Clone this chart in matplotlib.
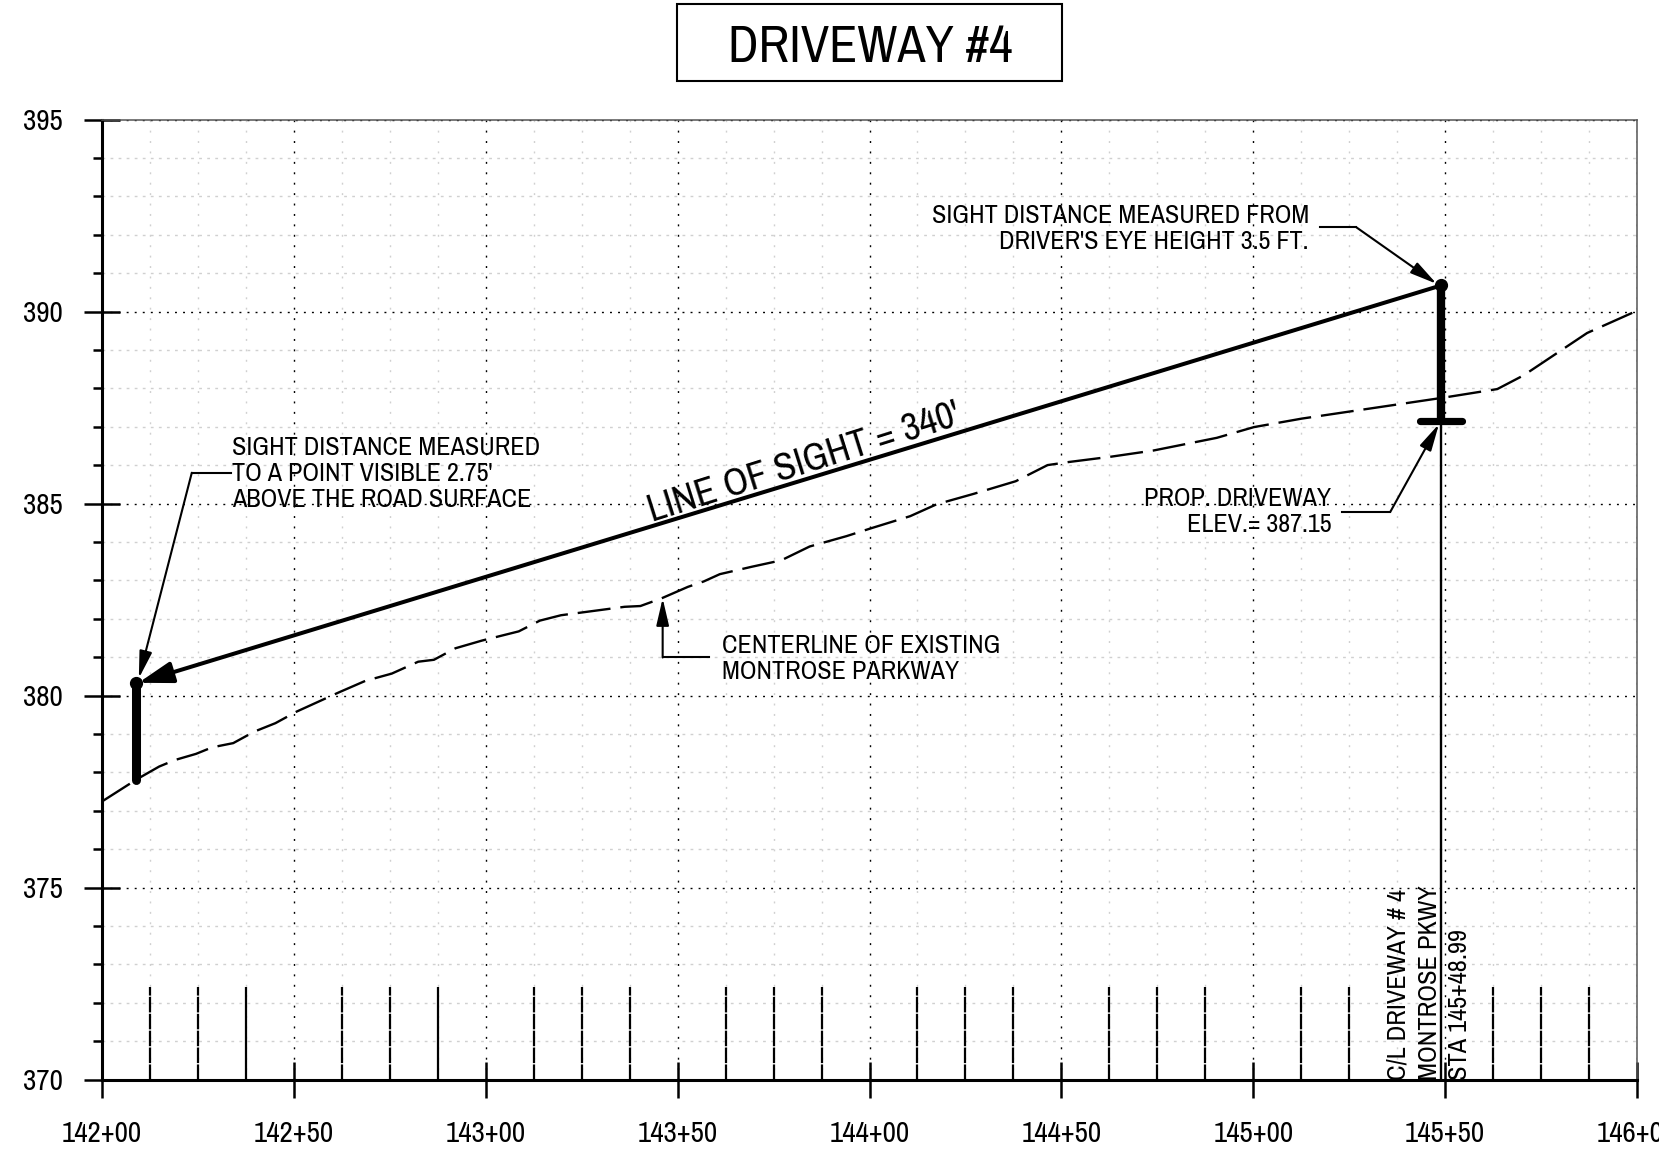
import matplotlib
matplotlib.use('Agg')
import matplotlib.pyplot as plt
from matplotlib.patches import Rectangle
from matplotlib.ticker import MultipleLocator, FuncFormatter

plt.rcParams['font.family'] = ['Archivo Narrow', 'Liberation Sans', 'DejaVu Sans']

W, H = 1659, 1175

# existing road centerline
ground_sta = [14200.0, 14209.1, 14214.9, 14219.0, 14224.5, 14228.7, 14234.2, 14239.7, 14245.2, 14250.7,
              14261.7, 14268.6, 14275.5, 14282.4, 14286.5, 14292.1, 14299.0, 14308.6, 14314.1, 14319.6,
              14327.9, 14336.2, 14340.3, 14345.8, 14352.7, 14356.8, 14361.0, 14369.2, 14377.0, 14384.4,
              14394.0, 14400.9, 14410.6, 14417.5, 14427.1, 14438.1, 14446.4, 14451.9, 14463.0, 14474.0,
              14490.5, 14500.2, 14512.6, 14549.8, 14563.6, 14570.5, 14587.0, 14600.0]
ground_elev = [377.24, 377.82, 378.15, 378.32, 378.48, 378.65, 378.76, 379.06, 379.28, 379.58,
               380.08, 380.38, 380.57, 380.88, 380.93, 381.23, 381.43, 381.67, 381.95, 382.09,
               382.20, 382.31, 382.33, 382.53, 382.83, 382.97, 383.16, 383.35, 383.52, 383.88,
               384.15, 384.37, 384.67, 384.98, 385.25, 385.58, 386.00, 386.08, 386.22, 386.38,
               386.71, 386.99, 387.21, 387.76, 387.98, 388.34, 389.44, 390.02]

# line of sight
driver_sta = 14548.99
driver_elev = 390.68
driveway_elev = 387.15
target_sta = 14208.99
target_top = 380.33
target_bottom = 377.8

# short marks above the station axis
mark_sta = [14212.5, 14225, 14262.5, 14275, 14312.5, 14325, 14337.5,
            14362.5, 14375, 14387.5, 14412.5, 14425, 14437.5, 14462.5, 14475, 14487.5,
            14512.5, 14525, 14562.5, 14575, 14587.5]
solid_mark_sta = [14237.5, 14287.5]

fig = plt.figure(figsize=(W / 100, H / 100), dpi=100, facecolor='white')
ax = fig.add_axes([102 / W, 1 - 1079.5 / H, (1637 - 102) / W, (1079.5 - 119.5) / H])
ax.set_xlim(14200, 14600)
ax.set_ylim(370, 395)

ax.spines['left'].set_linewidth(2.2)
ax.spines['bottom'].set_linewidth(2.2)
for side in ['top', 'right']:
    ax.spines[side].set_linewidth(1.1)
    ax.spines[side].set_color('#555555')

ax.xaxis.set_major_locator(MultipleLocator(50))
ax.xaxis.set_minor_locator(MultipleLocator(12.5))
ax.yaxis.set_major_locator(MultipleLocator(5))
ax.yaxis.set_minor_locator(MultipleLocator(1))
ax.xaxis.set_major_formatter(FuncFormatter(lambda v, p: '%d+%02d' % (v // 100, v % 100)))

ax.set_axisbelow(True)
# dot spacing differs a little between the two directions in the drawing
ax.xaxis.grid(True, which='major', color='black', lw=1, linestyle=(0, (1.4, 6.1)))
ax.yaxis.grid(True, which='major', color='black', lw=1, linestyle=(0, (1.4, 4.4)))
ax.xaxis.grid(True, which='minor', color='#d0d0d0', lw=1, linestyle=(0, (1.4, 6.1)))
ax.yaxis.grid(True, which='minor', color='#d0d0d0', lw=1, linestyle=(0, (2.0, 3.8)))

ax.tick_params(axis='both', which='major', direction='inout', length=26, width=1.8, labelsize=21)
ax.tick_params(axis='y', which='major', pad=15)
ax.tick_params(axis='x', which='major', pad=16)
ax.tick_params(axis='y', which='minor', direction='out', length=6.5, width=1.8)
ax.tick_params(axis='x', which='minor', length=0)

ax.vlines(mark_sta, 370, 372.4, color='black', lw=1.6, linestyle=(0, (7, 0.6)))
ax.vlines(solid_mark_sta, 370, 372.4, color='black', lw=1.6)

# profile line
ax.plot(ground_sta, ground_elev, color='black', lw=1.7, linestyle=(0, (14, 4.2)), dash_capstyle='butt')

# driver and target posts
ax.plot([driver_sta, driver_sta], [370, driveway_elev], color='black', lw=1.7)
ax.plot([driver_sta, driver_sta], [driveway_elev, driver_elev], color='black', lw=6, solid_capstyle='round')
ax.plot([driver_sta - 5.5, driver_sta + 5.5], [driveway_elev, driveway_elev], color='black', lw=5.2,
        solid_capstyle='round')
ax.plot([target_sta, target_sta], [target_bottom, target_top], color='black', lw=6.5, solid_capstyle='round')
ax.plot([target_sta, driver_sta], [target_top, driver_elev], ls='none', marker='o', ms=8.5, color='black')

ax.annotate('', xy=(target_sta + 0.5, target_top), xytext=(driver_sta, driver_elev),
            arrowprops=dict(arrowstyle='-|>,head_length=1.6,head_width=0.5', color='black', lw=2.9,
                            shrinkA=0, shrinkB=0, mutation_scale=13))
ax.text(14383, 386.05, "LINE OF SIGHT = 340'", fontsize=28, rotation=17.5, rotation_mode='anchor',
        ha='center', va='center')


def leader(sta, elev, label, text_sta, text_elev, ha):
    ax.plot(sta[:-1], elev[:-1], color='black', lw=1.5, solid_joinstyle='miter')
    ax.annotate('', xy=(sta[-1], elev[-1]), xytext=(sta[-2], elev[-2]),
                arrowprops=dict(arrowstyle='-|>,head_length=1.5,head_width=0.35', color='black', lw=1.5,
                                shrinkA=0, shrinkB=0, mutation_scale=11))
    ax.text(text_sta, text_elev, label, fontsize=18.8, ha=ha, va='center', ma=ha, linespacing=1.18)


leader([14517.5, 14526.9, 14547.8], [392.19, 392.19, 390.72],
       "SIGHT DISTANCE MEASURED FROM\nDRIVER'S EYE HEIGHT 3.5 FT.", 14514.5, 392.16, 'right')
leader([14233.6, 14223.4, 14209.6], [385.8, 385.8, 380.45],
       "SIGHT DISTANCE MEASURED\nTO A POINT VISIBLE 2.75'\nABOVE THE ROAD SURFACE", 14233.9, 385.78, 'left')
leader([14523.2, 14535.7, 14548.4], [384.78, 384.78, 387.07],
       "PROP. DRIVEWAY\nELEV.= 387.15", 14520.3, 384.79, 'right')
leader([14358.2, 14346.1, 14346.1], [380.99, 380.99, 382.53],
       "CENTERLINE OF EXISTING\nMONTROSE PARKWAY", 14361.5, 380.96, 'left')

for sta, label in [(14537.8, 'C/L DRIVEWAY # 4'), (14545.8, 'MONTROSE PKWY'), (14553.8, 'STA 145+48.99')]:
    ax.text(sta, 370, label, fontsize=19, rotation=90, ha='center', va='bottom')

# title box
fig.add_artist(Rectangle((677 / W, 1 - 81 / H), 385 / W, 77 / H, transform=fig.transFigure,
                         facecolor='white', edgecolor='black', lw=1.5))
fig.text(870 / W, 1 - 47 / H, 'DRIVEWAY #4', fontsize=37.2, ha='center', va='center')

fig.savefig('out.png', dpi=100)
